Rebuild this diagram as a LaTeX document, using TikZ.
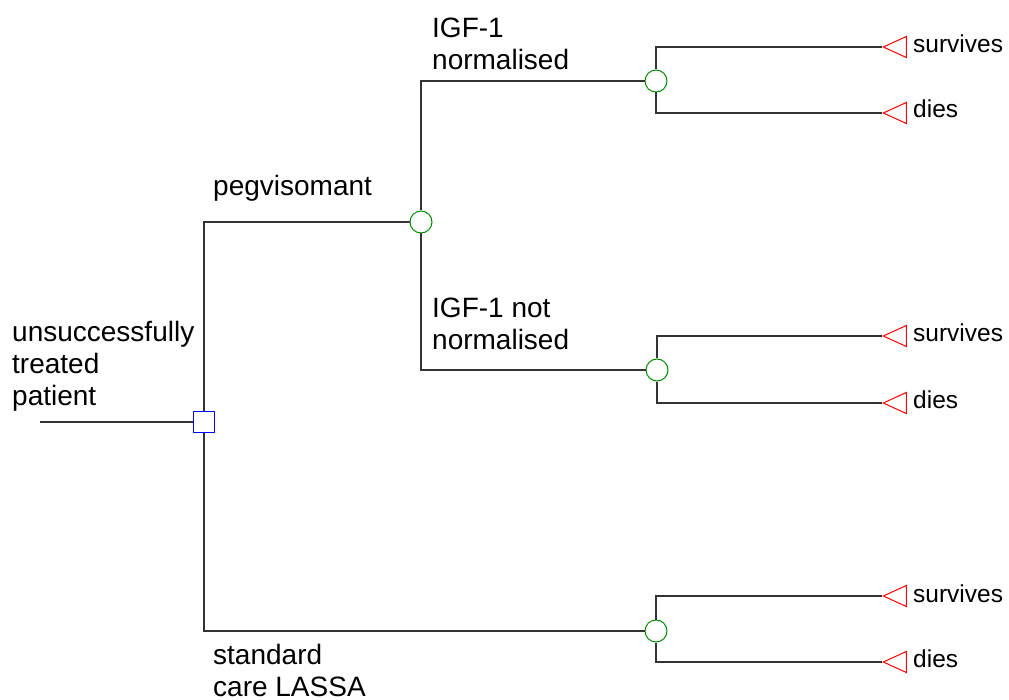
\documentclass[tikz,border=0pt]{standalone}
\usepackage{fontspec}
\setmainfont{Liberation Sans}
\usetikzlibrary{shapes.geometric}
\begin{document}
\begin{tikzpicture}[x=1pt,y=-1pt,
  branch/.style={draw=black!80, line width=1.1pt},
  decision/.style={draw=blue, fill=white, line width=1pt, rectangle, minimum size=21pt, inner sep=0pt},
  chance/.style={draw=green!55!black, fill=white, line width=1pt, circle, minimum size=22pt, inner sep=0pt},
  terminal/.style={draw=red, fill=white, line width=1pt, isosceles triangle, isosceles triangle stretches,
    shape border rotate=180, minimum width=21pt, minimum height=23pt, inner sep=0pt, anchor=apex},
  lbl/.style={anchor=base west, inner sep=0pt, font=\fontsize{28}{32}\selectfont},
  outlbl/.style={anchor=base west, inner sep=0pt, font=\fontsize{24.5}{28}\selectfont}]

\useasboundingbox (0,0) rectangle (1009,700);

% decision and chance nodes
\coordinate (root) at (40,422);
\node[decision] (D) at (204,422) {};
\node[chance] (C1) at (421,222) {};
\node[chance] (C2) at (656,81) {};
\node[chance] (C3) at (657,370) {};
\node[chance] (C4) at (656,631) {};

% terminal nodes
\node[terminal] (T1) at (882,47) {};
\node[terminal] (T2) at (882,113) {};
\node[terminal] (T3) at (882,336) {};
\node[terminal] (T4) at (882,403) {};
\node[terminal] (T5) at (882,596) {};
\node[terminal] (T6) at (882,662) {};

% branches
\draw[branch] (root) -- (D);
\draw[branch] (D) |- (C1);
\draw[branch] (D) |- (C4);
\draw[branch] (C1) |- (C2);
\draw[branch] (C1) |- (C3);
\draw[branch] (C2) |- (T1.apex);
\draw[branch] (C2) |- (T2.apex);
\draw[branch] (C3) |- (T3.apex);
\draw[branch] (C3) |- (T4.apex);
\draw[branch] (C4) |- (T5.apex);
\draw[branch] (C4) |- (T6.apex);

% branch labels
\node[lbl] (Lroot) at (12,342) {\vtop{\hbox{unsuccessfully}\hbox{treated}\hbox{patient}}};
\node[lbl] (Lpeg) at (213,196) {pegvisomant};
\node[lbl] (Lnorm) at (432,38) {\vtop{\hbox{IGF-1}\hbox{normalised}}};
\node[lbl] (Lnot) at (432,318) {\vtop{\hbox{IGF-1 not}\hbox{normalised}}};
\node[lbl] (Lstd) at (213,664) {\vtop{\hbox{standard}\hbox{care LASSA}}};

% outcome labels
\node[outlbl] (O1) at (913,53) {survives};
\node[outlbl] (O2) at (913,118) {dies};
\node[outlbl] (O3) at (913,342) {survives};
\node[outlbl] (O4) at (913,408) {dies};
\node[outlbl] (O5) at (913,602) {survives};
\node[outlbl] (O6) at (913,667) {dies};
\end{tikzpicture}
\end{document}
